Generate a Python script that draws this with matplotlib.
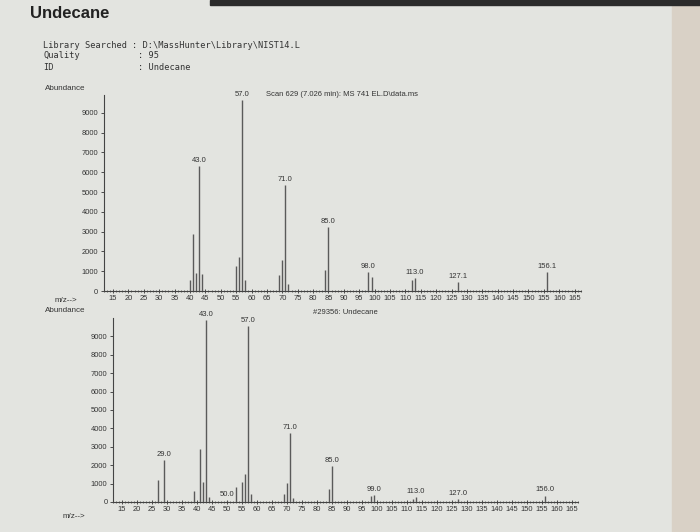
import matplotlib
matplotlib.use("Agg")
import matplotlib.pyplot as plt
from matplotlib.patches import Rectangle
from matplotlib.ticker import MultipleLocator

# sample spectrum (Scan 629)
scan_mz = [40, 41, 42, 43, 44, 55, 56, 57, 58, 69, 70, 71, 72, 84, 85, 98, 99, 112, 113, 127, 156]
scan_ab = [540, 2860, 900, 6300, 870, 1250, 1720, 9650, 540, 790, 1550, 5340, 340, 1040, 3230, 960, 700, 550, 650, 450, 950]
scan_labels = {43: "43.0", 57: "57.0", 71: "71.0", 85: "85.0", 98: "98.0", 113: "113.0", 127: "127.1", 156: "156.1"}

# library spectrum (#29356 Undecane)
lib_mz = [27, 29, 39, 41, 42, 43, 44, 50, 53, 55, 56, 57, 58, 69, 70, 71, 72, 84, 85, 98, 99, 112, 113, 127, 156]
lib_ab = [1180, 2270, 600, 2900, 1090, 9900, 250, 80, 820, 1090, 1500, 9550, 450, 450, 1040, 3760, 200, 690, 1960, 300, 380, 150, 250, 150, 350]
lib_labels = {29: "29.0", 43: "43.0", 50: "50.0", 57: "57.0", 71: "71.0", 85: "85.0", 99: "99.0", 113: "113.0", 127: "127.0", 156: "156.0"}

y_ticks = [0, 1000, 2000, 3000, 4000, 5000, 6000, 7000, 8000, 9000]

bg = "#e3e4e0"
ink = "#333333"
bar_col = "#5a5a5a"
plt.rcParams["font.family"] = ["Liberation Sans", "DejaVu Sans"]

fig = plt.figure(figsize=(7, 5.32), dpi=100, facecolor=bg)
fig.patches.append(Rectangle((672 / 700, 0), 28 / 700, 1, transform=fig.transFigure, color="#d9d1c6", zorder=0))
fig.patches.append(Rectangle((210 / 700, 527 / 532), 490 / 700, 5 / 532, transform=fig.transFigure, color="#2b2b2b", zorder=0))

fig.text(30 / 700, 1 - 14 / 532, "Undecane", fontsize=12, fontweight="bold", color="#222222", va="center")
mono = dict(family=["DejaVu Sans Mono"], fontsize=6.2, color=ink, va="center")
fig.text(43 / 700, 1 - 45 / 532, "Library Searched", **mono)
fig.text(43 / 700, 1 - 56 / 532, "Quality", **mono)
fig.text(43 / 700, 1 - 67 / 532, "ID", **mono)
fig.text(132 / 700, 1 - 45 / 532, ": D:\\MassHunter\\Library\\NIST14.L", **mono)
fig.text(138 / 700, 1 - 56 / 532, ": 95", **mono)
fig.text(138 / 700, 1 - 67 / 532, ": Undecane", **mono)


def spectrum(ax, mz, ab, labels, title, title_xy):
    ax.set_facecolor("none")
    ax.vlines(mz, 0, ab, color=bar_col, lw=1.0)
    for m, a in zip(mz, ab):
        if m in labels:
            ax.text(m, a + 120, labels[m], ha="center", va="bottom", fontsize=5.5, color=ink)
    ax.set_xlim(12, 167)
    ax.set_ylim(0, 10000)
    ax.set_xticks(range(15, 166, 5))
    ax.xaxis.set_minor_locator(MultipleLocator(1))
    ax.set_yticks(y_ticks)
    ax.tick_params(axis="both", labelsize=5.4, colors=ink, length=2.5, width=0.6, pad=1.5)
    ax.tick_params(axis="x", which="both", direction="inout")
    ax.tick_params(axis="x", which="minor", length=2, width=0.5, colors=ink)
    for s in ["top", "right"]:
        ax.spines[s].set_visible(False)
    for s in ["left", "bottom"]:
        ax.spines[s].set_linewidth(0.8)
        ax.spines[s].set_color("#444444")
    fig.text(title_xy[0] / 700, 1 - title_xy[1] / 532, title, fontsize=5.5, color=ink, va="center")


ax1 = fig.add_axes([103.8 / 700, 1 - 291 / 532, 477 / 700, 196 / 532])
spectrum(ax1, scan_mz, scan_ab, scan_labels, "Scan 629 (7.026 min): MS 741 EL.D\\data.ms", (266, 94))
ax1.set_ylim(0, 9900)

ax2 = fig.add_axes([113 / 700, 1 - 502 / 532, 465 / 700, 184 / 532])
spectrum(ax2, lib_mz, lib_ab, lib_labels, "#29356: Undecane", (313, 313))

small = dict(fontsize=5.8, color=ink, va="center")
fig.text(45 / 700, 1 - 88 / 532, "Abundance", **small)
fig.text(55 / 700, 1 - 300 / 532, "m/z-->", **small)
fig.text(45 / 700, 1 - 310 / 532, "Abundance", **small)
fig.text(63 / 700, 1 - 516 / 532, "m/z-->", **small)

fig.savefig("out.png", dpi=100, facecolor=bg)
